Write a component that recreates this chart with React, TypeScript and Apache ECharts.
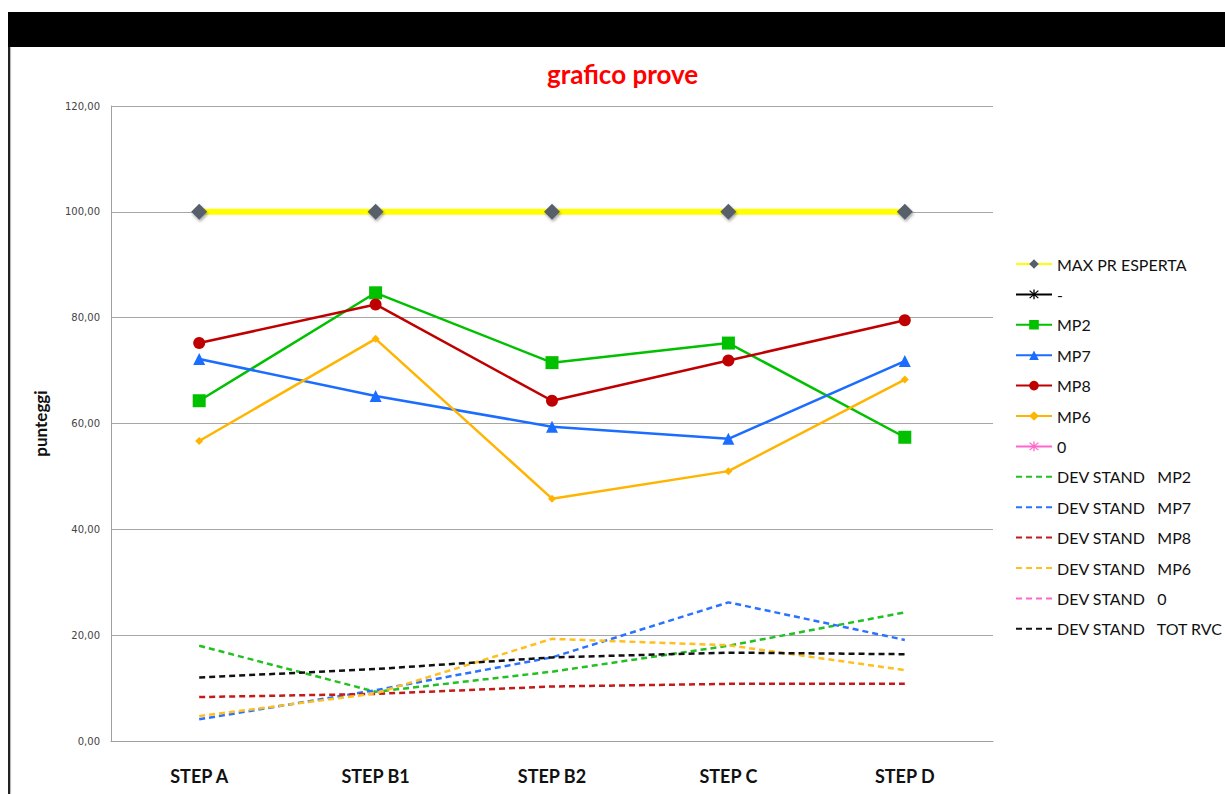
import React, { useEffect, useRef } from "react";
import * as echarts from "echarts";

// Categories and scores per step
const categories = ["STEP A", "STEP B1", "STEP B2", "STEP C", "STEP D"];
const maxPrEsperta = [100, 100, 100, 100, 100];
const mp2 = [64.3, 84.7, 71.5, 75.2, 57.4];
const mp7 = [72.2, 65.2, 59.4, 57.1, 71.8];
const mp8 = [75.2, 82.5, 64.3, 71.9, 79.5];
const mp6 = [56.7, 76.0, 45.8, 51.0, 68.3];
const devMp2 = [18.0, 9.3, 13.1, 18.0, 24.3];
const devMp7 = [4.1, 9.6, 15.8, 26.2, 19.1];
const devMp8 = [8.3, 8.9, 10.3, 10.8, 10.8];
const devMp6 = [4.7, 9.0, 19.3, 18.1, 13.4];
const devTot = [12.0, 13.6, 15.8, 16.7, 16.4];

const legendNames = [
  "MAX PR ESPERTA",
  "-",
  "MP2",
  "MP7",
  "MP8",
  "MP6",
  "0",
  "DEV STAND   MP2",
  "DEV STAND   MP7",
  "DEV STAND   MP8",
  "DEV STAND   MP6",
  "DEV STAND   0",
  "DEV STAND   TOT RVC",
];

const FONT = "Lato, 'Open Sans', sans-serif";

// asterisk-like marker built from three thin bars
const ASTERISK =
  "path://M4.4,0 H5.6 V10 H4.4 Z M0.6,1.4 L1.4,0.6 L9.4,8.6 L8.6,9.4 Z M8.6,0.6 L9.4,1.4 L1.4,9.4 L0.6,8.6 Z";

function solid(name: string, data: number[], color: string, symbol: string, size: number) {
  return {
    name,
    type: "line",
    data,
    symbol,
    symbolSize: size,
    showSymbol: true,
    lineStyle: { color, width: 2.5 },
    itemStyle: { color },
    z: 5,
  };
}

function dashed(name: string, data: number[], color: string) {
  return {
    name,
    type: "line",
    data,
    symbol: "none",
    lineStyle: { color, width: 2.5, type: [6, 4] },
    itemStyle: { color },
    z: 3,
  };
}

export default function App() {
  const ref = useRef<HTMLDivElement>(null);

  useEffect(() => {
    if (!ref.current) return;
    const chart = echarts.init(ref.current, undefined, { renderer: "svg" });
    chart.setOption({
      animation: false,
      backgroundColor: "transparent",
      title: {
        text: "grafico prove",
        left: 542,
        top: 56,
        textStyle: { color: "#ff0000", fontSize: 26, fontWeight: "bold", fontFamily: FONT },
      },
      grid: { left: 111, right: 232, top: 106, bottom: 53 },
      legend: {
        orient: "vertical",
        left: 1015,
        top: 256,
        padding: 0,
        itemWidth: 36,
        itemHeight: 12,
        itemGap: 14.4,
        textStyle: { fontSize: 16, color: "#111", fontFamily: FONT, lineHeight: 16 },
        // dashed entries show only their line, no marker
        data: legendNames.map((n) =>
          n.startsWith("DEV STAND") ? { name: n, itemStyle: { opacity: 0 } } : { name: n }
        ),
      },
      xAxis: {
        type: "category",
        data: categories,
        boundaryGap: true,
        axisLine: { lineStyle: { color: "#a0a0a0", width: 1 } },
        axisTick: { show: false },
        axisLabel: {
          margin: 26,
          color: "#111",
          fontSize: 18,
          fontWeight: "bold",
          fontFamily: FONT,
        },
      },
      yAxis: {
        type: "value",
        min: 0,
        max: 120,
        interval: 20,
        name: "punteggi",
        nameLocation: "middle",
        nameGap: 62,
        nameTextStyle: { fontSize: 17, fontWeight: "bold", color: "#111", fontFamily: FONT },
        axisLine: { show: true, lineStyle: { color: "#a0a0a0", width: 1 } },
        axisTick: { show: false },
        splitLine: { lineStyle: { color: "#a6a6a6", width: 1.2 } },
        axisLabel: {
          margin: 11,
          color: "#444",
          fontSize: 10,
          fontFamily: "'DejaVu Sans', sans-serif",
          formatter: (v: number) => v.toFixed(2).replace(".", ","),
        },
      },
      series: [
        {
          name: "MAX PR ESPERTA",
          type: "line",
          data: maxPrEsperta,
          symbol: "diamond",
          symbolSize: 16,
          lineStyle: { color: "#ffff00", width: 6 },
          itemStyle: {
            color: "#565f6b",
            shadowColor: "rgba(0,0,0,0.35)",
            shadowBlur: 3,
            shadowOffsetX: 1,
            shadowOffsetY: 2,
          },
          z: 6,
        },
        {
          name: "-",
          type: "line",
          data: [],
          symbol: ASTERISK,
          symbolSize: 10,
          lineStyle: { color: "#000", width: 3 },
          itemStyle: { color: "#000" },
        },
        solid("MP2", mp2, "#00c000", "rect", 13),
        solid("MP7", mp7, "#1a6dff", "triangle", 12),
        solid("MP8", mp8, "#c00000", "circle", 12),
        solid("MP6", mp6, "#ffb400", "diamond", 8),
        {
          name: "0",
          type: "line",
          data: [],
          symbol: ASTERISK,
          symbolSize: 10,
          lineStyle: { color: "#ff66cc", width: 2.5 },
          itemStyle: { color: "#ff66cc" },
        },
        dashed("DEV STAND   MP2", devMp2, "#22c022"),
        dashed("DEV STAND   MP7", devMp7, "#2a72ff"),
        dashed("DEV STAND   MP8", devMp8, "#c41a1a"),
        dashed("DEV STAND   MP6", devMp6, "#ffbf1f"),
        dashed("DEV STAND   0", [], "#ff66cc"),
        dashed("DEV STAND   TOT RVC", devTot, "#111111"),
      ],
    });
    return () => chart.dispose();
  }, []);

  return (
    <div style={{ position: "fixed", left: 0, top: 0, width: 1225, height: 794, background: "#fff" }}>
      <div style={{ position: "absolute", left: 8, top: 12, width: 1217, height: 35, background: "#000" }} />
      <div
        style={{
          position: "absolute",
          left: 8,
          top: 47,
          width: 2,
          height: 747,
          background: "#222",
          boxShadow: "1px 0 1px rgba(0,0,0,0.3)",
        }}
      />
      <div ref={ref} style={{ position: "absolute", left: 0, top: 0, width: 1225, height: 794 }} />
    </div>
  );
}
